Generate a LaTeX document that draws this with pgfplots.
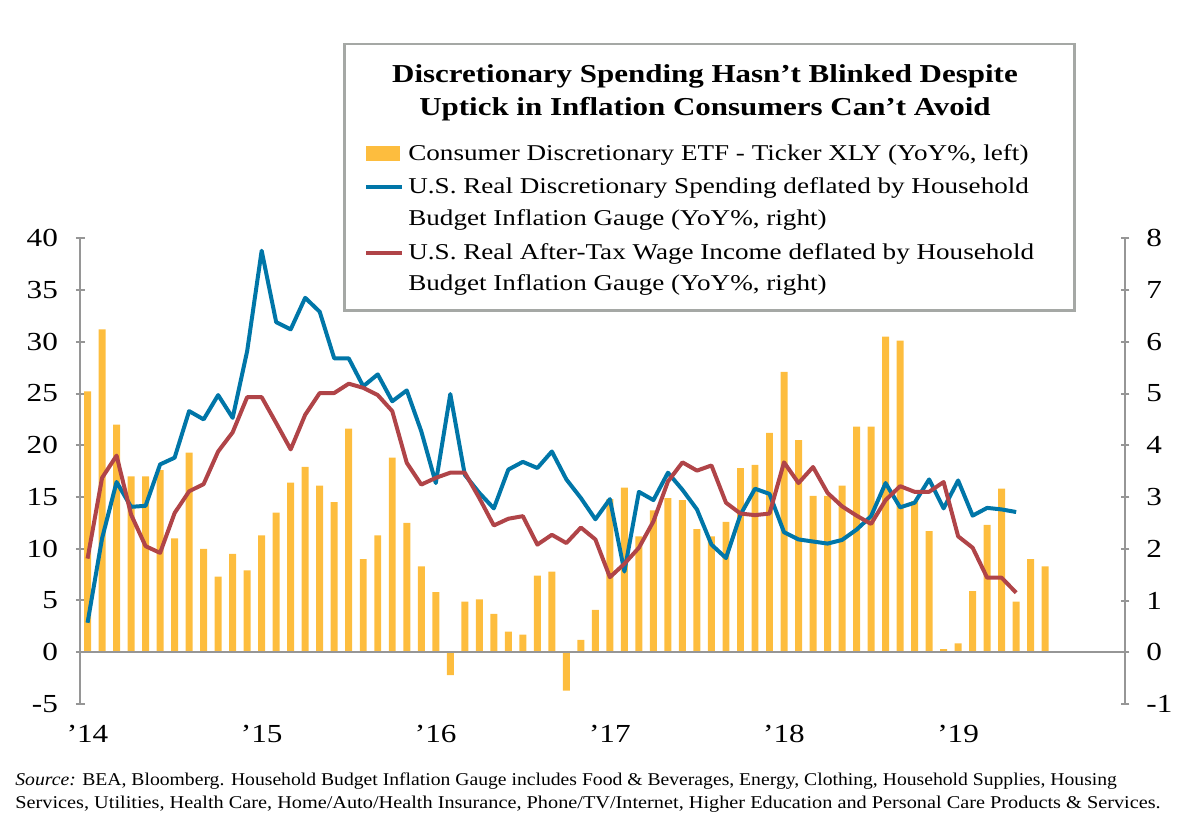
\documentclass[border=0pt]{standalone}
\usepackage{fontspec}
\setmainfont{Liberation Serif}[FakeStretch=1.2]
\newfontfamily\notefont{Liberation Serif}[FakeStretch=1.08]
\usepackage{pgfplots}
\pgfplotsset{compat=1.18}
\definecolor{barY}{RGB}{253,189,62}
\definecolor{lnB}{RGB}{0,118,168}
\definecolor{lnR}{RGB}{176,68,72}
\definecolor{axG}{RGB}{150,150,150}
\definecolor{boxG}{RGB}{165,168,165}

\pgfplotstableread{
i v
0 25.2
1 31.2
2 22.0
3 17.0
4 17.0
5 17.6
6 11.0
7 19.3
8 10.0
9 7.3
10 9.5
11 7.9
12 11.3
13 13.5
14 16.4
15 17.9
16 16.1
17 14.5
18 21.6
19 9.0
20 11.3
21 18.8
22 12.5
23 8.3
24 5.8
25 -2.2
26 4.9
27 5.1
28 3.7
29 2.0
30 1.7
31 7.4
32 7.8
33 -3.7
34 1.2
35 4.1
36 14.8
37 15.9
38 11.2
39 13.7
40 14.9
41 14.7
42 11.9
43 11.2
44 12.6
45 17.8
46 18.1
47 21.2
48 27.1
49 20.5
50 15.1
51 15.1
52 16.1
53 21.8
54 21.8
55 30.5
56 30.1
57 14.6
58 11.7
59 0.3
60 0.85
61 5.9
62 12.3
63 15.8
64 4.9
65 9.0
66 8.3
}\xly

\pgfplotstableread{
i v
0 0.57
1 2.2
2 3.29
3 2.81
4 2.83
5 3.63
6 3.76
7 4.66
8 4.50
9 4.97
10 4.53
11 5.82
12 7.76
13 6.38
14 6.24
15 6.85
16 6.58
17 5.68
18 5.68
19 5.14
20 5.37
21 4.85
22 5.06
23 4.27
24 3.27
25 4.99
26 3.43
27 3.08
28 2.78
29 3.53
30 3.68
31 3.56
32 3.88
33 3.34
34 2.98
35 2.57
36 2.96
37 1.56
38 3.10
39 2.94
40 3.47
41 3.14
42 2.76
43 2.08
44 1.82
45 2.66
46 3.16
47 3.06
48 2.32
49 2.18
50 2.14
51 2.10
52 2.17
53 2.37
54 2.63
55 3.27
56 2.80
57 2.89
58 3.34
59 2.78
60 3.32
61 2.64
62 2.79
63 2.76
64 2.71
}\spend

\pgfplotstableread{
i v
0 1.81
1 3.37
2 3.80
3 2.66
4 2.05
5 1.92
6 2.69
7 3.11
8 3.25
9 3.88
10 4.25
11 4.93
12 4.93
13 4.43
14 3.92
15 4.59
16 5.01
17 5.01
18 5.19
19 5.11
20 4.97
21 4.66
22 3.66
23 3.24
24 3.37
25 3.47
26 3.47
27 2.98
28 2.45
29 2.58
30 2.63
31 2.08
32 2.27
33 2.11
34 2.41
35 2.18
36 1.45
37 1.71
38 2.02
39 2.53
40 3.30
41 3.67
42 3.51
43 3.61
44 2.89
45 2.68
46 2.65
47 2.68
48 3.67
49 3.27
50 3.58
51 3.08
52 2.82
53 2.64
54 2.48
55 2.94
56 3.21
57 3.10
58 3.10
59 3.29
60 2.24
61 2.02
62 1.44
63 1.44
64 1.15
}\wage

\begin{document}
\begin{tikzpicture}
\pgfplotsset{
  common/.style={
    at={(40.15pt,67pt)}, anchor=south west,
    scale only axis, width=522.35pt, height=232.85pt,
    xmin=-0.5, xmax=71.5,
    tick align=outside,
    major tick length=4.3pt,
    /pgf/number format/assume math mode=true,
    ticklabel style={font=\fontsize{13}{15}\selectfont, black},
    ytick style={draw=axG, line width=1pt},
  },
  every outer y axis line/.append style={-},
  every inner y axis line/.append style={-},
}
\begin{axis}[common,
  ymin=-5, ymax=40, ytick={-5,0,...,40},
  axis y line=left,
  axis x line=bottom,
  x axis line style={draw=none},
  y axis line style={-, draw=axG, line width=1pt},
  xtick={0,12,24,36,48,60},
  xticklabels={'14,'15,'16,'17,'18,'19},
  major x tick style={draw=none},
  xticklabel style={yshift=-5pt},
  yticklabel style={xshift=-5.5pt},
]
\addplot[ybar, bar width=0.48, fill=barY, draw=none] table[x=i,y=v] {\xly};
\draw[axG, line width=1pt] (axis cs:-0.5,0) -- (axis cs:71.5,0);
\end{axis}

\begin{axis}[common,
  ymin=-1, ymax=8, ytick={-1,0,...,8},
  axis y line=right,
  axis x line=none,
  y axis line style={-, draw=axG, line width=1pt},
  yticklabel style={xshift=5pt},
  legend cell align=left,
  legend style={at={(rel axis cs:0.2715,1.203)}, anchor=north west,
    draw=none, fill=none, inner sep=0pt, row sep=7.4pt, column sep=2pt,
    font=\fontsize{11.3}{15.75}\selectfont,
    cells={align=left},
    nodes={inner sep=0pt}},
]
\addlegendimage{legend image code/.code={\fill[barY] (0pt,-3.5pt) rectangle (16.5pt,3.5pt);}}
\addlegendentry{Consumer Discretionary ETF - Ticker XLY (YoY\%, left)}
\addplot[lnB, line width=2pt, line join=round, legend image code/.code={\draw[lnB, line width=2pt] (0pt,7.875pt) -- (18pt,7.875pt);}] table[x=i,y=v] {\spend};
\addlegendentry{U.S. Real Discretionary Spending deflated by Household\\Budget Inflation Gauge (YoY\%, right)}
\addplot[lnR, line width=2pt, line join=round, legend image code/.code={\draw[lnR, line width=2pt] (0pt,7.875pt) -- (18pt,7.875pt);}] table[x=i,y=v] {\wage};
\addlegendentry{U.S. Real After-Tax Wage Income deflated by Household\\Budget Inflation Gauge (YoY\%, right)}
\end{axis}

\draw[boxG, line width=1.4pt] (172.3pt,263.7pt) rectangle (537.2pt,397pt);
\node[anchor=base, inner sep=0pt, font=\bfseries\fontsize{12.9}{15}\selectfont] at (352.5pt,377.65pt) {Discretionary Spending Hasn't Blinked Despite};
\node[anchor=base, inner sep=0pt, font=\bfseries\fontsize{12.9}{15}\selectfont] at (352.5pt,361pt) {Uptick in Inflation Consumers Can't Avoid};

\node[anchor=base west, inner sep=0pt, font=\notefont\fontsize{9}{11}\selectfont] at (7.5pt,26pt) {\scalebox{1.011}[1]{\textit{Source:} BEA, Bloomberg. Household Budget Inflation Gauge includes Food \& Beverages, Energy, Clothing, Household Supplies, Housing}};
\node[anchor=base west, inner sep=0pt, font=\notefont\fontsize{9}{11}\selectfont] at (7.5pt,14.5pt) {\scalebox{1.043}[1]{Services, Utilities, Health Care, Home/Auto/Health Insurance, Phone/TV/Internet, Higher Education and Personal Care Products \& Services.}};

\pgfresetboundingbox
\path[use as bounding box] (0,0) rectangle (600pt,419pt);
\end{tikzpicture}
\end{document}
